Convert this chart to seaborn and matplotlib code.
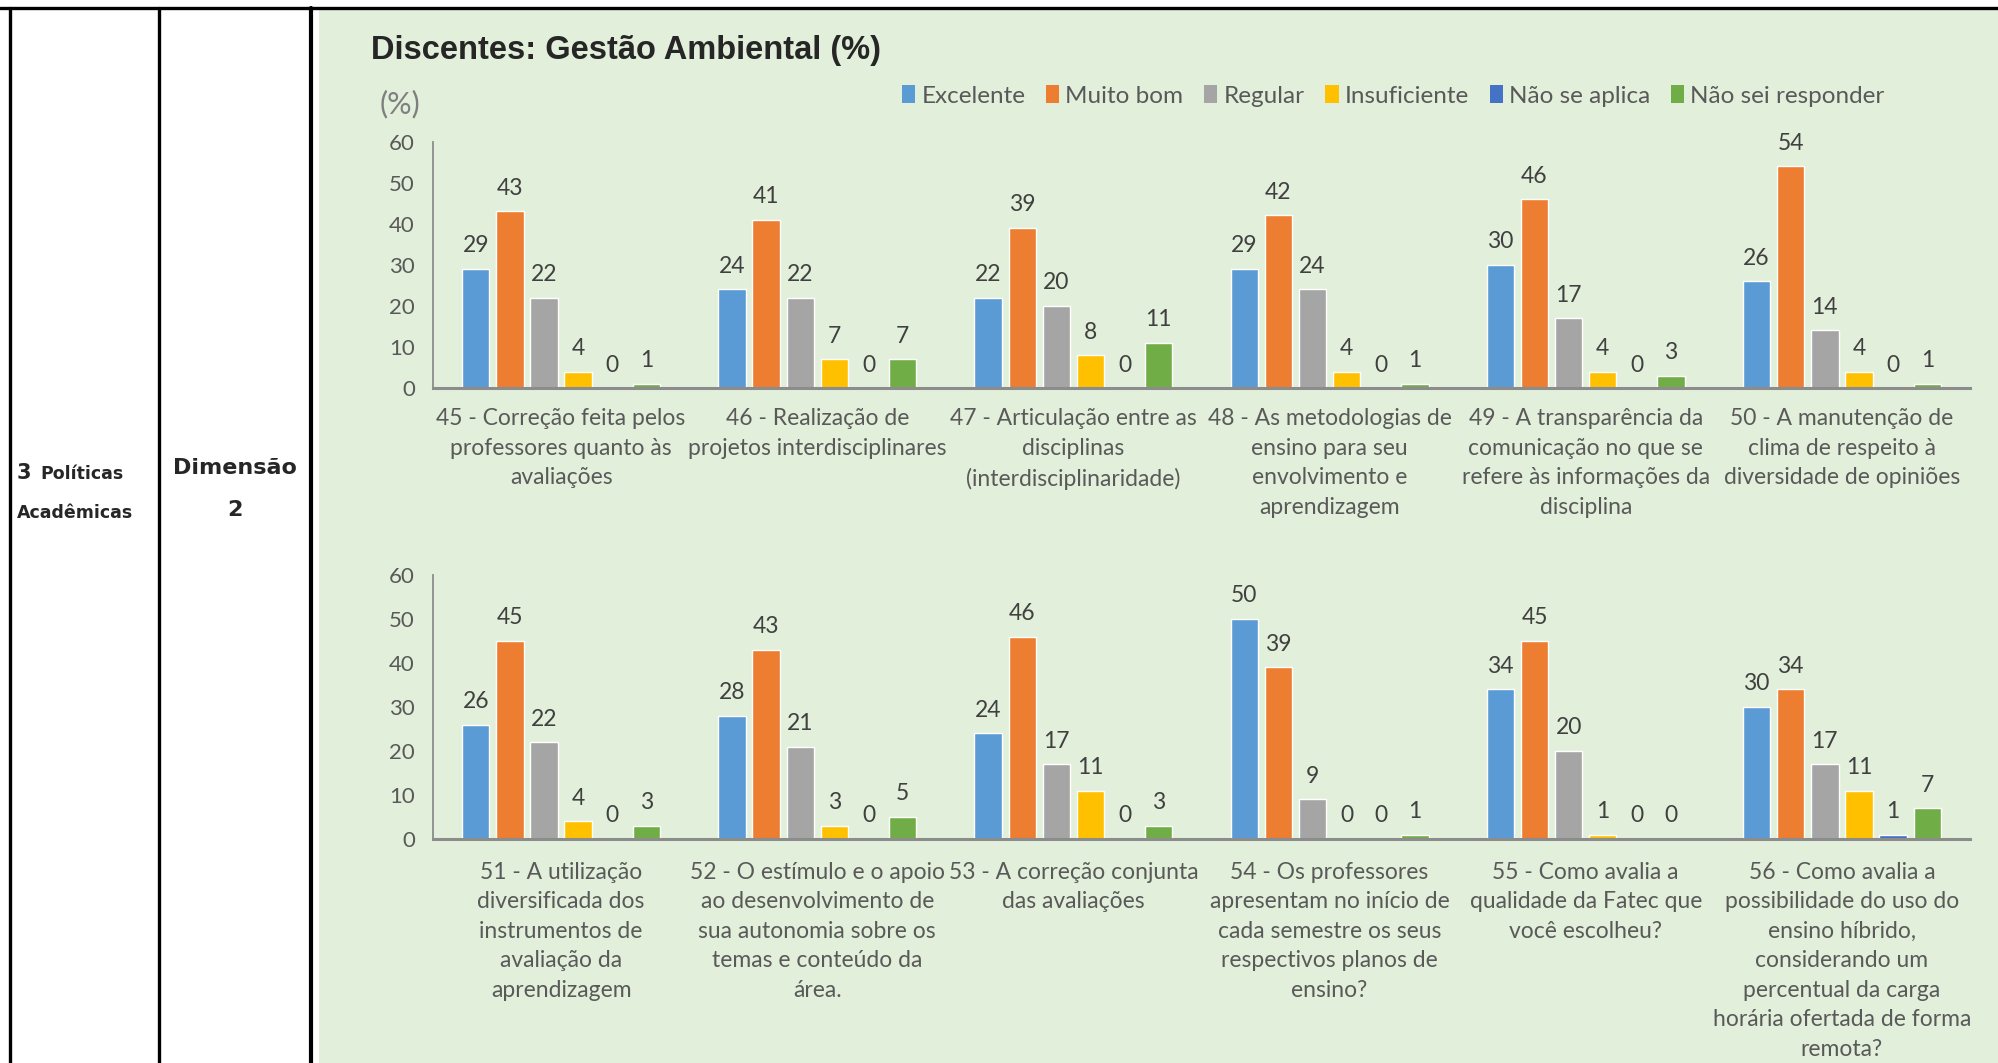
import matplotlib.pyplot as plt
import matplotlib.patches as mpatches
from matplotlib.lines import Line2D
import pandas as pd
import seaborn as sns

# figure size in pixels (dpi 100)
W, H = 1999, 1063

categories = ['Excelente', 'Muito bom', 'Regular', 'Insuficiente',
              'Não se aplica', 'Não sei responder']
colors = ['#5B9BD5', '#ED7D31', '#A5A5A5', '#FFC000', '#4472C4', '#70AD47']

questions_top = [
    '45 - Correção feita pelos\nprofessores quanto às\navaliações',
    '46 - Realização de\nprojetos interdisciplinares',
    '47 - Articulação entre as\ndisciplinas\n(interdisciplinaridade)',
    '48 - As metodologias de\nensino para seu\nenvolvimento e\naprendizagem',
    '49 - A transparência da\ncomunicação no que se\nrefere às informações da\ndisciplina',
    '50 - A manutenção de\nclima de respeito à\ndiversidade de opiniões',
]
values_top = [
    [29, 43, 22, 4, 0, 1],
    [24, 41, 22, 7, 0, 7],
    [22, 39, 20, 8, 0, 11],
    [29, 42, 24, 4, 0, 1],
    [30, 46, 17, 4, 0, 3],
    [26, 54, 14, 4, 0, 1],
]

questions_bottom = [
    '51 - A utilização\ndiversificada dos\ninstrumentos de\navaliação da\naprendizagem',
    '52 - O estímulo e o apoio\nao desenvolvimento de\nsua autonomia sobre os\ntemas e conteúdo da\nárea.',
    '53 - A correção conjunta\ndas avaliações',
    '54 - Os professores\napresentam no início de\ncada semestre os seus\nrespectivos planos de\nensino?',
    '55 - Como avalia a\nqualidade da Fatec que\nvocê escolheu?',
    '56 - Como avalia a\npossibilidade do uso do\nensino híbrido,\nconsiderando um\npercentual da carga\nhorária ofertada de forma\nremota?',
]
values_bottom = [
    [26, 45, 22, 4, 0, 3],
    [28, 43, 21, 3, 0, 5],
    [24, 46, 17, 11, 0, 3],
    [50, 39, 9, 0, 0, 1],
    [34, 45, 20, 1, 0, 0],
    [30, 34, 17, 11, 1, 7],
]

yticks = [0, 10, 20, 30, 40, 50, 60]


def fx(px):
    return px / W


def fy(py):
    return 1 - py / H


def to_long(questions, values):
    rows = []
    for q, vals in zip(questions, values):
        for c, v in zip(categories, vals):
            rows.append({'questao': q, 'categoria': c, 'valor': v})
    return pd.DataFrame(rows)


def draw_panel(ax, questions, values, xpad):
    df = to_long(questions, values)
    sns.barplot(data=df, x='questao', y='valor', hue='categoria',
                hue_order=categories, palette=colors, saturation=1,
                width=0.8, gap=0.2, errorbar=None, legend=False, ax=ax)
    for cont in ax.containers:
        ax.bar_label(cont, fmt='%d', padding=9, fontsize=16.5, color='#404040')
    ax.set_facecolor('none')
    ax.set_ylim(0, 60)
    ax.set_yticks(yticks)
    ax.set_xticks(range(len(questions)))
    ax.set_xticklabels(questions, linespacing=1.5, va='top')
    ax.set_xlabel('')
    ax.set_ylabel('')
    for s in ['top', 'right']:
        ax.spines[s].set_visible(False)
    ax.spines['left'].set_color('#8C8C8C')
    ax.spines['left'].set_linewidth(1.3)
    ax.spines['bottom'].set_color('#8C8C8C')
    ax.spines['bottom'].set_linewidth(2.2)
    ax.tick_params(axis='y', length=5, width=1, color='#8C8C8C',
                   labelsize=16, labelcolor='#595959', pad=8)
    ax.tick_params(axis='x', length=0, labelsize=16.5, labelcolor='#595959', pad=xpad)


sns.set_style('white')
plt.rcParams['font.family'] = ['Lato', 'DejaVu Sans']

fig = plt.figure(figsize=(W / 100, H / 100), dpi=100)

# green background of the chart cell
fig.patches.append(mpatches.Rectangle((fx(319), 0), 1 - fx(319), fy(10),
                                      transform=fig.transFigure,
                                      facecolor='#E2EFDA', edgecolor='none', zorder=-10))

# table borders
lines = [
    ((fx(0), fx(W)), (fy(8), fy(8)), 2.4),
    ((fx(10), fx(10)), (fy(8), 0), 2.4),
    ((fx(159), fx(159)), (fy(8), 0), 2.4),
    ((fx(311), fx(311)), (fy(8), 0), 3.0),
]
for xs, ys, lw in lines:
    fig.add_artist(Line2D(xs, ys, transform=fig.transFigure, color='black', lw=lw))

# left cells text
fig.text(fx(17), fy(479), '3', fontsize=15, fontweight='bold',
         family='DejaVu Sans', va='baseline')
fig.text(fx(40), fy(479), 'Políticas', fontsize=12.5, fontweight='bold',
         family='DejaVu Sans', va='baseline')
fig.text(fx(17), fy(518), 'Acadêmicas', fontsize=12.5, fontweight='bold',
         family='DejaVu Sans', va='baseline')
fig.text(fx(235), fy(468), 'Dimensão', fontsize=16, fontweight='bold',
         family='DejaVu Sans', ha='center', va='center')
fig.text(fx(235), fy(510), '2', fontsize=16, fontweight='bold',
         family='DejaVu Sans', ha='center', va='center')

# title and unit
fig.text(fx(371), fy(51), 'Discentes: Gestão Ambiental (%)', fontsize=23.5,
         fontweight='bold', family='Liberation Sans', va='center')
fig.text(fx(380), fy(104), '(%)', fontsize=22, color='#7F7F7F', va='center')

ax_top = fig.add_axes([fx(433), fy(388), fx(1970) - fx(433), fy(141.5) - fy(388)])
ax_bot = fig.add_axes([fx(433), fy(839), fx(1970) - fx(433), fy(575) - fy(839)])

draw_panel(ax_top, questions_top, values_top, 14.5)
draw_panel(ax_bot, questions_bottom, values_bottom, 16.5)

handles = [mpatches.Patch(facecolor=c, edgecolor='none', label=l)
           for c, l in zip(colors, categories)]
fig.legend(handles=handles, loc='center left', bbox_to_anchor=(fx(880), fy(96)),
           ncol=6, frameon=False, fontsize=17.5, handlelength=0.55, handleheight=0.75,
           handletextpad=0.25, columnspacing=0.85, labelcolor='#595959')

fig.savefig('out.png', dpi=100)
